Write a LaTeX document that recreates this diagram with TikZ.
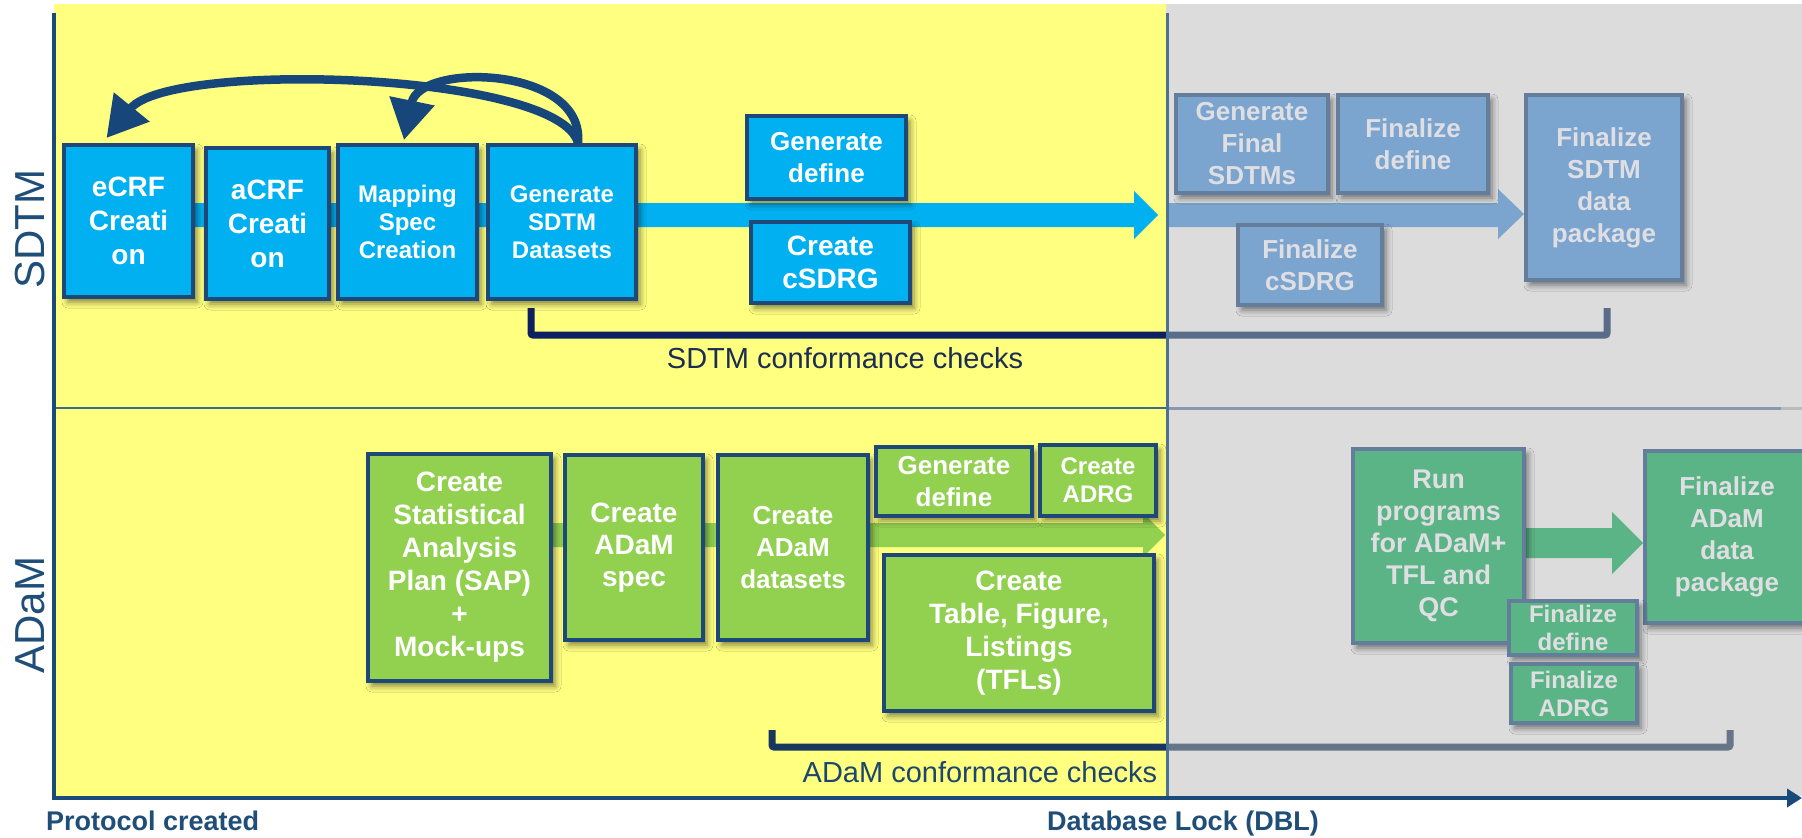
\documentclass[tikz,border=0pt]{standalone}
\usepackage{fontspec}
\setmainfont{Liberation Sans}
\usetikzlibrary{arrows.meta,shadows.blur}

\definecolor{lanebg}{HTML}{FFFF80}
\definecolor{lockbg}{HTML}{DCDCDC}
\definecolor{axisblue}{HTML}{1A4A7A}
\definecolor{boxline}{HTML}{1E4878}
\definecolor{sdtmfill}{HTML}{00B0F0}
\definecolor{adamfill}{HTML}{92D050}
\definecolor{lockblue}{HTML}{7BA5CE}
\definecolor{lockgreen}{HTML}{5BB485}
\definecolor{lockline}{HTML}{637D9B}
\definecolor{locktext}{HTML}{DFDFE3}
\definecolor{checknavy}{HTML}{0D2160}
\definecolor{checknavyb}{HTML}{17375F}
\definecolor{checkgray}{HTML}{5B6B8A}
\definecolor{checkgrayb}{HTML}{667689}
\definecolor{labeldark}{HTML}{1B2D52}
\definecolor{lanetitle}{HTML}{1F4E79}
\definecolor{curveblue}{HTML}{17467A}

\begin{document}
\begin{tikzpicture}[x=1pt,y=-1pt,
  boxbase/.style={line width=4pt, inner sep=0pt, align=center,
    blur shadow={shadow xshift=4pt, shadow yshift=-5pt,
      shadow blur radius=6pt, shadow opacity=50}},
  sbox/.style={boxbase, draw=boxline, fill=sdtmfill, text=white},
  abox/.style={boxbase, draw=boxline, fill=adamfill, text=white},
  lbbox/.style={boxbase, draw=lockline, fill=lockblue, text=locktext},
  lgbox/.style={boxbase, draw=lockline, fill=lockgreen, text=locktext},
  fs/.style 2 args={font=\bfseries\fontsize{#1}{#2}\selectfont},
  sz/.style 2 args={minimum width=#1pt, minimum height=#2pt},
  loop/.style={draw=curveblue, line width=8.5pt,
    -{Triangle[length=40pt,width=44pt]}},
  check/.style={line width=7pt, rounded corners=2pt},
]
\useasboundingbox (0,0) rectangle (1802,838);
\clip (0,0) rectangle (1802,838);
\fill[white] (0,0) rectangle (1802,838);

% lanes before and after database lock
\fill[lanebg] (54,4) rectangle (1166,796);
\fill[lockbg] (1166,4) rectangle (1802,796);

% separator between the SDTM and ADaM lanes
\draw[line width=2.5pt, color=lanetitle!85!white] (54,408) -- (1166,408);
\draw[line width=3pt, color=lockline!70!lockbg] (1166,408) -- (1781,408);
\draw[line width=3pt, color=lockbg!85!black] (1781,408) -- (1802,408);

% conformance check brackets
\draw[check, checknavy] (531,308) -- (531,335) -- (1167,335);
\draw[check, checkgray] (1166,335) -- (1607,335) -- (1607,308);
\draw[check, checknavyb] (772,730) -- (772,747) -- (1167,747);
\draw[check, checkgrayb] (1166,747) -- (1730,747) -- (1730,730);

% flow bars
\fill[sdtmfill] (150,203) -- (1134,203) -- (1134,191) -- (1158,215)
  -- (1134,239) -- (1134,227) -- (150,227) -- cycle;
\fill[lockblue] (1167,203) -- (1498,203) -- (1498,189) -- (1524,214)
  -- (1498,239) -- (1498,227) -- (1167,227) -- cycle;
\fill[adamfill] (540,523) -- (1143,523) -- (1143,513) -- (1165,535)
  -- (1143,557) -- (1143,547) -- (540,547) -- cycle;
\fill[lockgreen] (1520,528) -- (1612,528) -- (1612,512) -- (1643,543)
  -- (1612,574) -- (1612,558) -- (1520,558) -- cycle;

% SDTM lane
\node[sbox, fs={28}{34}, sz={129}{152}] (ecrf) at (128.5,221) {eCRF\\Creati\\on};
\node[sbox, fs={28}{34}, sz={123}{151}] (acrf) at (267.5,223.5) {aCRF\\Creati\\on};
\node[sbox, fs={24}{28}, sz={139}{154}] (map) at (407.5,222) {Mapping\\Spec\\Creation};
\node[sbox, fs={24}{28}, sz={148}{154}] (gsd) at (562,222) {Generate\\SDTM\\Datasets};
\node[sbox, fs={26}{32}, sz={159}{83}] (gdef) at (826.5,157.5) {Generate\\define};
\node[sbox, fs={28}{33}, sz={159}{81}] (csdrg) at (830.5,262.5) {Create\\cSDRG};

\node[lbbox, fs={26}{32}, sz={152}{98}] (gfin) at (1252,144) {Generate\\Final\\SDTMs};
\node[lbbox, fs={26}{32}, sz={150}{98}] (fdef) at (1413,144) {Finalize\\define};
\node[lbbox, fs={26}{32}, sz={144}{80}] (fcsdrg) at (1310,265) {Finalize\\cSDRG};
\node[lbbox, fs={26}{32}, sz={156}{185}] (fpkg) at (1604,187.5) {Finalize\\SDTM\\data\\package};

% ADaM lane
\node[abox, fs={28}{33}, sz={183}{227}] (sap) at (459.5,567.5)
  {Create\\Statistical\\Analysis\\Plan (SAP)\\+\\Mock-ups};
\node[abox, fs={28}{32}, sz={138}{185}] (aspec) at (634,547.5) {Create\\ADaM\\spec};
\node[abox, fs={26}{32}, sz={150}{185}] (ads) at (793,547.5) {Create\\ADaM\\datasets};
\node[abox, fs={26}{32}, sz={156}{69}] (agdef) at (954,481.5) {Generate\\define};
\node[abox, fs={24}{28}, sz={116}{71}] (adrg) at (1098,480.5) {Create\\ADRG};
\node[abox, fs={28}{33}, sz={270}{156}] (tfl) at (1019,633)
  {Create\\Table, Figure,\\Listings\\(TFLs)};

\node[lgbox, fs={27}{32}, sz={171}{194}] (run) at (1438.5,546)
  {Run\\programs\\for ADaM+\\TFL and\\QC};
\node[lgbox, fs={26}{32}, sz={164}{172}] (fapkg) at (1727,537) {Finalize\\ADaM\\data\\package};
\node[lgbox, fs={24}{28}, sz={128}{54}] (fadef) at (1573,628) {Finalize\\define};
\node[lgbox, fs={24}{28}, sz={126}{59}] (fadrg) at (1574,693.5) {Finalize\\ADRG};

% iteration loops back from dataset generation
\draw[loop] ([xshift=16pt]gsd.north) .. controls (560,72) and (170,60)
  .. ([xshift=-22pt,yshift=5pt]ecrf.north);
\draw[loop] ([xshift=16pt]gsd.north) .. controls (585,66) and (420,62)
  .. ([xshift=-3.5pt,yshift=3pt]map.north);

% time axes and database lock marker
\draw[line width=3pt, color=lanetitle!80!white] (1167,13) -- (1167,798);
\draw[line width=4.5pt, axisblue] (54,13) -- (54,800);
\draw[line width=4.5pt, axisblue, -{Triangle[length=15pt,width=18pt]}] (52,798) -- (1802,798);

% lane titles and labels
\node[rotate=90, text=lanetitle, font=\fontsize{42}{42}\selectfont] (sdtmlab) at (30,229) {SDTM};
\node[rotate=90, text=lanetitle, font=\fontsize{42}{42}\selectfont] (adamlab) at (30,615) {ADaM};
\node[anchor=base, text=labeldark, font=\fontsize{29}{29}\selectfont, inner sep=0pt]
  (sdtmcc) at (845,368) {SDTM conformance checks};
\node[anchor=base, text=lanetitle!90!black, font=\fontsize{29}{29}\selectfont, inner sep=0pt]
  (adamcc) at (980,782) {ADaM conformance checks};
\node[anchor=base west, text=lanetitle, font=\bfseries\fontsize{27}{27}\selectfont, inner sep=0pt]
  (protlab) at (46,830) {Protocol created};
\node[anchor=base, text=lanetitle, font=\bfseries\fontsize{27}{27}\selectfont, inner sep=0pt]
  (dbllab) at (1183,830) {Database Lock (DBL)};
\end{tikzpicture}
\end{document}
